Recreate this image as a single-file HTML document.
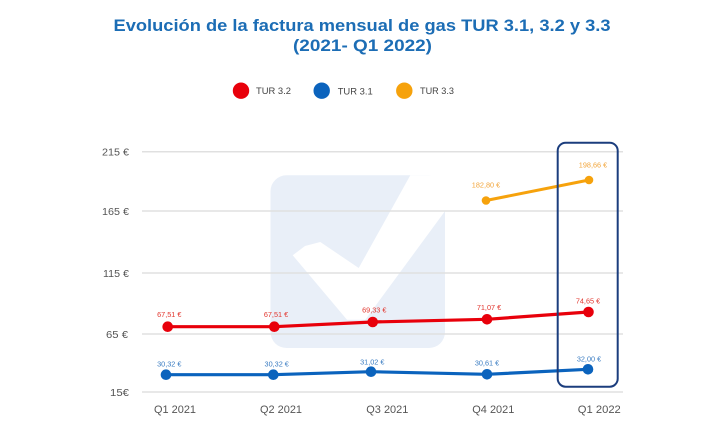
<!DOCTYPE html>
<html>
<head>
<meta charset="utf-8">
<style>
  html,body{margin:0;padding:0;background:#fff;}
  svg{display:block;}
  text{font-family:"Liberation Sans",sans-serif;}
</style>
</head>
<body>
<svg width="709" height="446" viewBox="0 0 709 446" xmlns="http://www.w3.org/2000/svg">
  <rect width="709" height="446" fill="#ffffff"/>

  <!-- Title -->
  <text x="362" y="31" text-anchor="middle" font-size="17" font-weight="bold" fill="#1c6db5" textLength="497" lengthAdjust="spacingAndGlyphs">Evolución de la factura mensual de gas TUR 3.1, 3.2 y 3.3</text>
  <text x="362.5" y="51" text-anchor="middle" font-size="17" font-weight="bold" fill="#1c6db5" textLength="139" lengthAdjust="spacingAndGlyphs">(2021- Q1 2022)</text>

  <!-- Legend -->
  <circle cx="241" cy="90.7" r="8.2" fill="#e8000b"/>
  <text x="256" y="94" font-size="9.5" fill="#444" textLength="35" lengthAdjust="spacingAndGlyphs">TUR 3.2</text>
  <circle cx="321.7" cy="90.7" r="8.2" fill="#0b63bd"/>
  <text x="337.7" y="94.5" font-size="9.5" fill="#444" textLength="35" lengthAdjust="spacingAndGlyphs">TUR 3.1</text>
  <circle cx="404.3" cy="90.7" r="8.2" fill="#f6a20c"/>
  <text x="420" y="94" font-size="9.5" fill="#444" textLength="34" lengthAdjust="spacingAndGlyphs">TUR 3.3</text>

  <!-- Watermark -->
  <rect x="270.5" y="175.3" width="174.5" height="172.7" rx="16" ry="16" fill="#e9eff8"/>
  <polygon points="292.7,255.3 305,246 320.3,242 358.7,268 410.3,175.3 446,175.3 446,209.7 365.3,319.7 347,319.7" fill="#ffffff"/>

  <!-- Gridlines -->
  <g stroke="#e0e0e0" stroke-width="1.5">
    <line x1="142" y1="151.7" x2="623" y2="151.7"/>
    <line x1="142" y1="211" x2="623" y2="211"/>
    <line x1="142" y1="273" x2="623" y2="273"/>
    <line x1="142" y1="334" x2="623" y2="334"/>
    <line x1="142" y1="392" x2="623" y2="392"/>
  </g>

  <!-- Y labels -->
  <g font-size="10" fill="#555" text-anchor="end">
    <text x="129" y="155.5" textLength="27" lengthAdjust="spacingAndGlyphs">215 €</text>
    <text x="129" y="214.8" textLength="27" lengthAdjust="spacingAndGlyphs">165 €</text>
    <text x="129" y="276.8" textLength="26" lengthAdjust="spacingAndGlyphs">115 €</text>
    <text x="128" y="337.8" textLength="22" lengthAdjust="spacingAndGlyphs">65 €</text>
    <text x="129" y="395.8" textLength="19" lengthAdjust="spacingAndGlyphs">15€</text>
  </g>

  <!-- X labels -->
  <g font-size="11" fill="#555" text-anchor="middle">
    <text x="175" y="413" textLength="42" lengthAdjust="spacingAndGlyphs">Q1 2021</text>
    <text x="281" y="413" textLength="42" lengthAdjust="spacingAndGlyphs">Q2 2021</text>
    <text x="387.3" y="413" textLength="42" lengthAdjust="spacingAndGlyphs">Q3 2021</text>
    <text x="493.3" y="413" textLength="42" lengthAdjust="spacingAndGlyphs">Q4 2021</text>
    <text x="599.3" y="413" textLength="43" lengthAdjust="spacingAndGlyphs">Q1 2022</text>
  </g>

  <!-- Orange series -->
  <polyline points="486,200.5 589,180" fill="none" stroke="#f6a20c" stroke-width="3"/>
  <circle cx="486" cy="200.5" r="4.3" fill="#f6a20c"/>
  <circle cx="589" cy="180" r="4.3" fill="#f6a20c"/>
  <g font-size="7.3" fill="#f2a53a" text-anchor="middle">
    <text x="486" y="187.5">182,80 €</text>
    <text x="593" y="167.5">198,66 €</text>
  </g>

  <!-- Red series -->
  <polyline points="167.7,326.7 274.3,326.7 372.7,322 487,319.3 588.5,312" fill="none" stroke="#e8000b" stroke-width="3.2"/>
  <g fill="#e8000b">
    <circle cx="167.7" cy="326.7" r="5.3"/>
    <circle cx="274.3" cy="326.7" r="5.3"/>
    <circle cx="372.7" cy="322" r="5.3"/>
    <circle cx="487" cy="319.3" r="5.3"/>
    <circle cx="588.5" cy="312" r="5.3"/>
  </g>
  <g font-size="7.3" fill="#e2362e" text-anchor="middle">
    <text x="169.3" y="317">67,51 €</text>
    <text x="276" y="317">67,51 €</text>
    <text x="374.3" y="312.7">69,33 €</text>
    <text x="489" y="310">71,07 €</text>
    <text x="588" y="303.4">74,65 €</text>
  </g>

  <!-- Blue series -->
  <polyline points="166,374.7 273.3,374.7 371,371.7 487,374.3 588,369.3" fill="none" stroke="#0b63bd" stroke-width="3.2"/>
  <g fill="#0b63bd">
    <circle cx="166" cy="374.7" r="5.3"/>
    <circle cx="273.3" cy="374.7" r="5.3"/>
    <circle cx="371" cy="371.7" r="5.3"/>
    <circle cx="487" cy="374.3" r="5.3"/>
    <circle cx="588" cy="369.3" r="5.3"/>
  </g>
  <g font-size="7.3" fill="#3a7cc2" text-anchor="middle">
    <text x="169.3" y="366.7">30,32 €</text>
    <text x="276.7" y="366.7">30,32 €</text>
    <text x="372.3" y="364.4">31,02 €</text>
    <text x="487" y="365.7">30,61 €</text>
    <text x="589" y="361.4">32,00 €</text>
  </g>

  <!-- Highlight box -->
  <rect x="557.7" y="142.7" width="60" height="244" rx="8" ry="8" fill="none" stroke="#1b3d7d" stroke-width="2"/>
</svg>
</body>
</html>
